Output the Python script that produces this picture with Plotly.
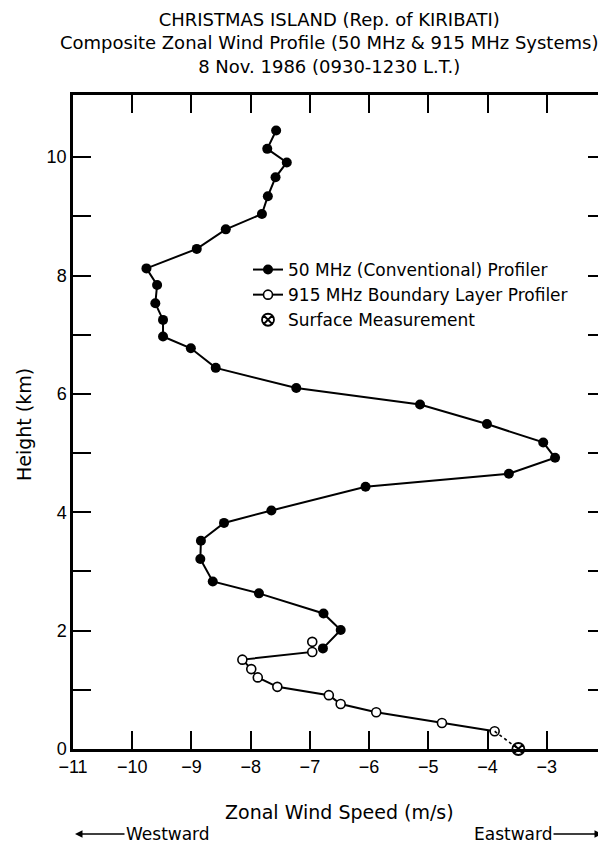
import plotly.graph_objects as go

# ---- data ----
vhf_speed = [-7.57, -7.72, -7.39, -7.58, -7.71, -7.81, -8.42, -8.91, -9.76, -9.58,
             -9.61, -9.48, -9.48, -9.01, -8.59, -7.23, -5.14, -4.01, -3.06, -2.86,
             -3.64, -6.06, -7.65, -8.45, -8.84, -8.85, -8.64, -7.86, -6.77, -6.48,
             -6.78]
vhf_height = [10.45, 10.14, 9.91, 9.66, 9.34, 9.04, 8.78, 8.45, 8.12, 7.84,
              7.53, 7.25, 6.97, 6.77, 6.44, 6.10, 5.82, 5.49, 5.18, 4.92,
              4.65, 4.43, 4.03, 3.82, 3.52, 3.21, 2.83, 2.63, 2.29, 2.01,
              1.70]

bl_speed = [-6.96, -6.96, -8.14, -7.99, -7.88, -7.55, -6.68, -6.48, -5.88, -4.77, -3.88]
bl_height = [1.81, 1.64, 1.51, 1.35, 1.21, 1.05, 0.91, 0.76, 0.62, 0.44, 0.30]

sfc_speed = [-3.48]
sfc_height = [0.0]

x_tickvals = [-11, -10, -9, -8, -7, -6, -5, -4, -3, -2]
x_ticktext = ["\u221211", "\u221210", "\u22129", "\u22128", "\u22127",
              "\u22126", "\u22125", "\u22124", "\u22123", "\u22122"]
y_tickvals = [0, 1, 2, 3, 4, 5, 6, 7, 8, 9, 10]
y_ticktext = ["0", "", "2", "", "4", "", "6", "", "8", "", "10"]

title_lines = ["CHRISTMAS ISLAND (Rep. of KIRIBATI)",
               "Composite Zonal Wind Profile (50 MHz & 915 MHz Systems)",
               "8 Nov. 1986 (0930-1230 L.T.)"]

WIDE = "DejaVu Sans, Verdana, sans-serif"
TICK = "Liberation Sans, Arial, Helvetica, sans-serif"

# plot-area geometry in pixels (for placing text)
PL, PR, PT, PB = 65, 598, 87, 741
PW, PH = PR - PL, PB - PT


def px_x(px):
    return (px - PL) / PW


def px_y(py):
    return (PB - py) / PH


fig = go.Figure()

fig.add_trace(go.Scatter(
    x=vhf_speed, y=vhf_height, mode="lines+markers",
    name="50 MHz (Conventional) Profiler",
    line=dict(color="black", width=2),
    marker=dict(symbol="circle", size=10, color="black"),
))
fig.add_trace(go.Scatter(
    x=bl_speed, y=bl_height, mode="lines+markers",
    name="915 MHz Boundary Layer Profiler",
    line=dict(color="black", width=2),
    marker=dict(symbol="circle", size=9, color="white",
                line=dict(color="black", width=1.6)),
))
fig.add_trace(go.Scatter(
    x=[bl_speed[-1], sfc_speed[0]], y=[bl_height[-1], sfc_height[0]],
    mode="lines", showlegend=False,
    line=dict(color="black", width=1.6, dash="3px,3px"),
))
fig.add_trace(go.Scatter(
    x=sfc_speed, y=sfc_height, mode="markers",
    name="Surface Measurement", cliponaxis=False,
    marker=dict(symbol="circle-x-open", size=12, color="black",
                line=dict(color="black", width=1.8)),
))

annotations = [dict(
    text="<br>".join(title_lines), xref="paper", yref="paper",
    x=px_x(321), y=px_y(35), xanchor="center", yanchor="middle", align="center",
    showarrow=False, font=dict(size=18, color="black", family=WIDE))]

annotations.append(dict(
    text="Zonal Wind Speed (m/s)", xref="paper", yref="paper",
    x=px_x(331), y=px_y(804), xanchor="center", yanchor="middle", showarrow=False,
    font=dict(size=19, color="black", family=WIDE)))
annotations.append(dict(
    text="Height (km)", xref="paper", yref="paper", textangle=-90,
    x=px_x(16), y=px_y(417), xanchor="center", yanchor="middle", showarrow=False,
    font=dict(size=19, color="black", family=WIDE)))

annotations.append(dict(
    text="Westward", xref="paper", yref="paper",
    x=px_x(67), y=px_y(826),
    ax=93, ay=0, showarrow=True, arrowhead=2, arrowsize=1, arrowwidth=1.5,
    arrowcolor="black", font=dict(size=17, color="black", family=WIDE)))
annotations.append(dict(
    text="Eastward", xref="paper", yref="paper",
    x=px_x(594), y=px_y(826),
    ax=-89, ay=0, showarrow=True, arrowhead=2, arrowsize=1, arrowwidth=1.5,
    arrowcolor="black", font=dict(size=17, color="black", family=WIDE)))

axis_common = dict(
    showline=True, linewidth=2.5, linecolor="black", mirror="ticks",
    ticks="inside", ticklen=18, tickwidth=1.5, tickcolor="black",
    showgrid=False, zeroline=False, automargin=False,
    tickfont=dict(size=18, color="black", family=TICK),
)

fig.update_layout(
    width=606, height=846,
    margin=dict(l=PL, r=606 - PR, t=PT, b=846 - PB),
    paper_bgcolor="white", plot_bgcolor="white",
    font=dict(family=WIDE, color="black"),
    showlegend=True,
    legend=dict(x=px_x(240), y=px_y(244), xanchor="left", yanchor="top",
                bgcolor="rgba(0,0,0,0)", font=dict(size=17, color="black", family=WIDE),
                tracegroupgap=0, itemwidth=30),
    annotations=annotations,
    xaxis=dict(range=[-11, -2], tickmode="array", tickvals=x_tickvals,
               ticktext=x_ticktext, **axis_common),
    yaxis=dict(range=[0, 11.05], tickmode="array", tickvals=y_tickvals,
               ticktext=y_ticktext, **axis_common),
)

fig.write_html("out.html")
